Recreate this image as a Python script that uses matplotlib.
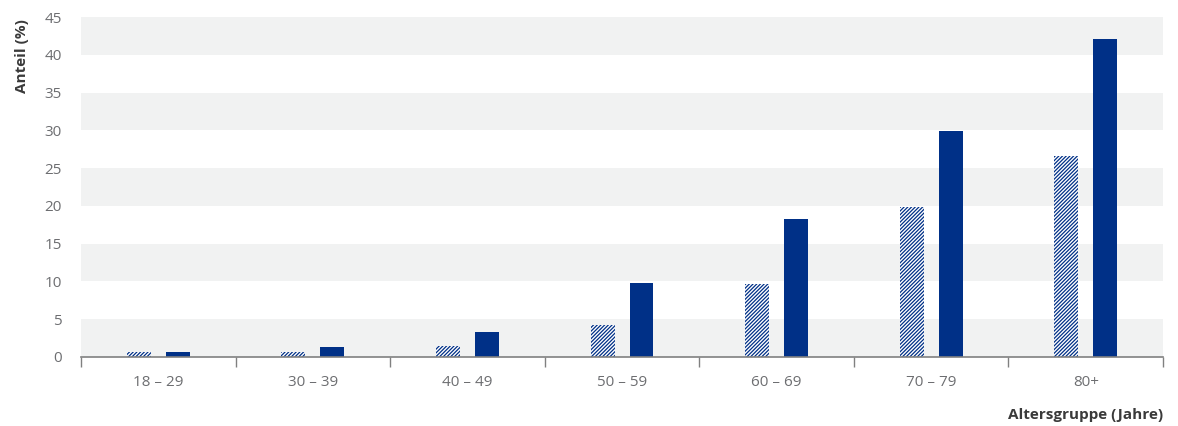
import numpy as np
import matplotlib.pyplot as plt

# data
groups = ['18 – 29', '30 – 39', '40 – 49', '50 – 59', '60 – 69', '70 – 79', '80+']
hatched_vals = [0.7, 0.7, 1.5, 4.2, 9.7, 19.9, 26.6]
solid_vals = [0.6, 1.3, 3.3, 9.8, 18.3, 29.9, 42.1]
yticks = [0, 5, 10, 15, 20, 25, 30, 35, 40, 45]

blue = '#003087'
band = '#f1f2f2'
grey_txt = '#6d6e71'

plt.rcParams['font.family'] = ['Open Sans', 'DejaVu Sans']
plt.rcParams['hatch.linewidth'] = 0.9

fig = plt.figure(figsize=(11.78, 4.26), dpi=100)
ax = fig.add_axes([0.0688, 0.162, 0.9185, 0.798])

# alternating background bands
for lo in range(0, 45, 10):
    ax.axhspan(lo, lo + 5, color=band, zorder=0, lw=0)

x = np.arange(len(groups))
w = 0.155
off = 0.126
ax.bar(x - off, hatched_vals, w, color='white', edgecolor=blue, hatch='/' * 9,
       linewidth=0, zorder=2)
ax.bar(x + off, solid_vals, w, color=blue, linewidth=0, zorder=2)

ax.set_xlim(-0.5, len(groups) - 0.5)
ax.set_ylim(0, 45)
ax.set_yticks(yticks)
ax.set_xticks(x)
ax.set_xticklabels(groups)
ax.set_xticks(np.arange(-0.5, len(groups)), minor=True)
ax.tick_params(axis='x', which='major', length=0, pad=13, labelsize=11, labelcolor=grey_txt)
ax.tick_params(axis='x', which='minor', length=7, width=1, color='#808080')
ax.tick_params(axis='y', length=0, pad=14, labelsize=11, labelcolor=grey_txt)

for s in ['top', 'right', 'left']:
    ax.spines[s].set_visible(False)
ax.spines['bottom'].set_color('#808080')
ax.spines['bottom'].set_linewidth(1.2)

fig.text(0.019, 0.955, 'Anteil (%)', rotation=90, ha='center', va='top',
         fontsize=11, fontweight='bold', color='#3a3a3a')
# right edge lined up with the end of the axis
ax.text(1.0, -0.15, 'Altersgruppe (Jahre)', transform=ax.transAxes,
        ha='right', va='top', fontsize=11, fontweight='bold', color='#3a3a3a')

fig.savefig('out.png', dpi=100)
